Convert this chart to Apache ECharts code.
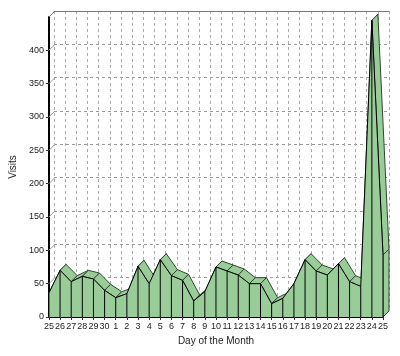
<!DOCTYPE html>
<html>
<head>
<meta charset="utf-8">
<script src="https://cdn.jsdelivr.net/npm/echarts@6/dist/echarts.min.js"></script>
<style>html,body{margin:0;padding:0;background:#fff}#c{width:400px;height:356px}</style>
</head>
<body>
<div id="c"></div>
<script>
var days = ['25','26','27','28','29','30','1','2','3','4','5','6','7','8','9','10','11','12','13','14','15','16','17','18','19','20','21','22','23','24','25'];
var visits = [36,70,53,61,57,40,29,35,76,50,86,62,55,24,38,75,69,63,50,50,20,28,50,86,69,63,80,53,46,445,93];
var yMax = 450, yStep = 50;

var DX = 6, DY = -6;
var FILL = '#99cc99', EDGE = '#2e4a2e', FRONT = '#000';
var FONT = 'Liberation Sans';

function off(p){ return [p[0]+DX, p[1]+DY]; }

function renderItem(params, api){
  var i = params.dataIndex, n = visits.length;
  var children = [];
  var p0 = api.coord([i, visits[i]]), b0 = api.coord([i, 0]);
  if (i === 0) {
    for (var v = 0; v <= yMax; v += yStep) {
      var a = api.coord([0, v]);
      children.push({type:'line', z2:0, shape:{x1:a[0],y1:a[1],x2:a[0]+DX,y2:a[1]+DY},
        style:{stroke: v === yMax ? '#777' : '#999', lineWidth:1}});
    }
  }
  if (i < n-1) {
    var p1 = api.coord([i+1, visits[i+1]]), b1 = api.coord([i+1, 0]);
    var slope = -(p1[1]-p0[1])/(p1[0]-p0[0]);
    var visible = slope < 1;
    children.push({type:'polygon', z2: visible ? 5 : 2,
      shape:{points:[p0,p1,off(p1),off(p0)]},
      style:{fill:FILL, stroke:EDGE, lineWidth:1}});
    children.push({type:'polygon', z2:10,
      shape:{points:[b0,p0,p1,b1]},
      style:{fill:FILL, stroke:null}});
    children.push({type:'line', z2:11, shape:{x1:p0[0],y1:p0[1],x2:p1[0],y2:p1[1]},
      style:{stroke:FRONT, lineWidth:1}});
  } else {
    children.push({type:'polygon', z2:5,
      shape:{points:[b0,p0,off(p0),off(b0)]},
      style:{fill:FILL, stroke:EDGE, lineWidth:1}});
  }
  children.push({type:'line', z2:11, shape:{x1:b0[0],y1:b0[1],x2:p0[0],y2:p0[1]},
    style:{stroke:FRONT, lineWidth:1}});
  return {type:'group', children:children};
}

var chart = echarts.init(document.getElementById('c'), null, {renderer:'canvas'});
chart.setOption({
  animation:false,
  backgroundColor:'#fff',
  grid:[
    {left:54, right:11, top:11, bottom:45},
    {left:48, right:17, top:17, bottom:39}
  ],
  xAxis:[
    {gridIndex:0, type:'category', data:days, boundaryGap:false,
      axisLine:{show:false}, axisTick:{show:false}, axisLabel:{show:false},
      splitLine:{show:true, interval:0, lineStyle:{color:'#aaa', type:[3,3], width:1}}},
    {gridIndex:0, type:'category', data:days, boundaryGap:false, position:'top',
      axisLine:{show:true, lineStyle:{color:'#777', width:1}}, axisTick:{show:false}, axisLabel:{show:false},
      splitLine:{show:false}},
    {gridIndex:1, type:'category', data:days, boundaryGap:false,
      name:'Day of the Month', nameLocation:'middle', nameGap:18,
      nameTextStyle:{fontFamily:FONT, fontSize:10, color:'#222'},
      axisLine:{show:true, lineStyle:{color:'#000', width:2}},
      axisTick:{show:true, length:3, interval:0, lineStyle:{color:'#333'}},
      axisLabel:{interval:0, margin:5, fontFamily:FONT, fontSize:9, color:'#222'},
      splitLine:{show:false}}
  ],
  yAxis:[
    {gridIndex:0, type:'value', min:0, max:yMax, interval:yStep,
      axisLine:{show:false}, axisTick:{show:false}, axisLabel:{show:false},
      splitLine:{show:true, lineStyle:{color:'#999', type:[3,3], width:1}}},
    {gridIndex:1, type:'value', min:0, max:yMax, interval:yStep,
      name:'Visits', nameLocation:'middle', nameGap:27,
      nameTextStyle:{fontFamily:FONT, fontSize:10, color:'#222'},
      axisLine:{show:true, lineStyle:{color:'#000', width:2}},
      axisTick:{show:true, length:3, lineStyle:{color:'#333'}},
      axisLabel:{margin:5, fontFamily:FONT, fontSize:9, color:'#222', showMaxLabel:false},
      splitLine:{show:false}}
  ],
  series:[{
    type:'custom', xAxisIndex:2, yAxisIndex:1,
    renderItem:renderItem,
    data:visits.map(function(v,i){return [i,v];}),
    clip:false
  }]
});
</script>
</body>
</html>
